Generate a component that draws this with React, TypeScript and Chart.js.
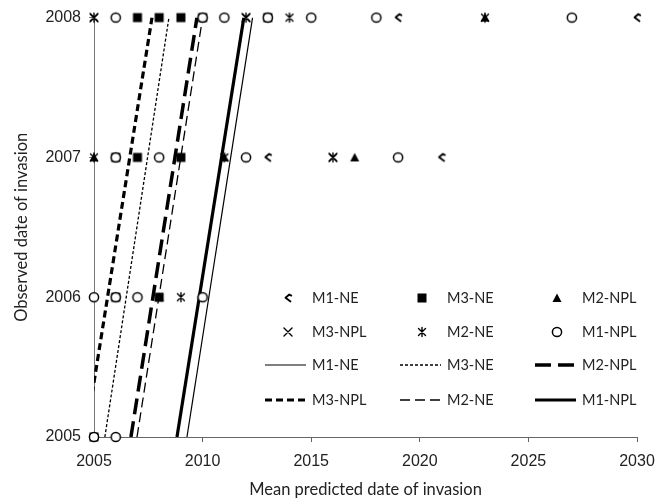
import React, { useEffect, useRef } from 'react';
import { Chart, registerables } from 'chart.js';

Chart.register(...registerables);

// ---------- data ----------
const seriesNames = ['M1-NE', 'M3-NE', 'M2-NPL', 'M3-NPL', 'M2-NE', 'M1-NPL'];

const xTickValues = [2005, 2010, 2015, 2020, 2025, 2030];
const xTickLabels = ['2005', '2010', '2015', '2020', '2025', '2030'];
const yTickValues = [2005, 2006, 2007, 2008];
const yTickLabels = ['2005', '2006', '2007', '2008'];

// marker points: predicted (x) vs observed (y)
const m1neX = [2019, 2030, 2013, 2021];
const m1neY = [2008, 2008, 2007, 2007];

const m3neX = [2007, 2008, 2009, 2010, 2013, 2006, 2007, 2009, 2006, 2008, 2005];
const m3neY = [2008, 2008, 2008, 2008, 2008, 2007, 2007, 2007, 2006, 2006, 2005];

const m2nplX = [2023, 2005, 2011, 2017, 2008];
const m2nplY = [2008, 2007, 2007, 2007, 2006];

const m3nplX = [2005, 2012, 2016];
const m3nplY = [2008, 2008, 2007];

const m2neX = [2005, 2012, 2014, 2023, 2005, 2011, 2016, 2009];
const m2neY = [2008, 2008, 2008, 2008, 2007, 2007, 2007, 2006];

const m1nplX = [2006, 2010, 2011, 2013, 2015, 2018, 2027, 2006, 2008, 2012, 2019, 2005, 2006, 2007, 2010, 2005, 2006];
const m1nplY = [2008, 2008, 2008, 2008, 2008, 2008, 2008, 2007, 2007, 2007, 2007, 2006, 2006, 2006, 2006, 2005, 2005];

// fitted lines: predicted value at observed 2005 and at observed 2008
const lineObsStart = 2005;
const lineObsEnd = 2008;
const lineM1NE = [2009.28, 2012.3];
const lineM3NE = [2005.5, 2008.45];
const lineM2NPL = [2006.7, 2009.74];
const lineM3NPL = [2004.6, 2007.67];
const lineM2NE = [2006.98, 2010.0];
const lineM1NPL = [2008.82, 2011.9];

// ---------- styles ----------
const lineStyles: Record<string, { width: number; dash: number[] }> = {
  'M1-NE': { width: 1.2, dash: [] },
  'M3-NE': { width: 1.3, dash: [3, 2] },
  'M2-NPL': { width: 3.5, dash: [16, 7] },
  'M3-NPL': { width: 3.2, dash: [7, 4] },
  'M2-NE': { width: 1.3, dash: [10, 5] },
  'M1-NPL': { width: 3.2, dash: [] },
};

function makeMarker(name: string): HTMLCanvasElement {
  const c = document.createElement('canvas');
  c.width = 14;
  c.height = 14;
  const g = c.getContext('2d')!;
  g.strokeStyle = '#000';
  g.fillStyle = '#000';
  g.lineCap = 'round';
  g.lineJoin = 'round';
  switch (name) {
    case 'M1-NE':
      g.lineWidth = 1.8;
      g.beginPath();
      g.moveTo(9.5, 10.5);
      g.lineTo(4.5, 6.8);
      g.lineTo(8.3, 3.5);
      g.lineTo(10.3, 4.6);
      g.stroke();
      break;
    case 'M3-NE':
      g.fillRect(2.5, 2.5, 9, 9);
      break;
    case 'M2-NPL':
      g.beginPath();
      g.moveTo(7, 2.5);
      g.lineTo(11.5, 11);
      g.lineTo(2.5, 11);
      g.closePath();
      g.fill();
      break;
    case 'M3-NPL':
      g.lineWidth = 1.4;
      g.beginPath();
      g.moveTo(3, 3);
      g.lineTo(11, 11);
      g.moveTo(11, 3);
      g.lineTo(3, 11);
      g.stroke();
      break;
    case 'M2-NE':
      g.lineWidth = 1.4;
      g.beginPath();
      g.moveTo(3.5, 3.5);
      g.lineTo(10.5, 10.5);
      g.moveTo(10.5, 3.5);
      g.lineTo(3.5, 10.5);
      g.moveTo(7, 2.5);
      g.lineTo(7, 11.5);
      g.stroke();
      break;
    case 'M1-NPL':
      g.lineWidth = 1.5;
      g.fillStyle = '#fff';
      g.beginPath();
      g.arc(7, 7, 4.6, 0, Math.PI * 2);
      g.fill();
      g.stroke();
      break;
  }
  return c;
}

const pts = (xs: number[], ys: number[]) => xs.map((x, i) => ({ x, y: ys[i] }));
const seg = (v: number[]) => [
  { x: v[0], y: lineObsStart },
  { x: v[1], y: lineObsEnd },
];

const UI_FONT = "Lato, 'Open Sans', sans-serif";
const TICK_FONT = "'Liberation Sans', Arial, sans-serif";

export default function App() {
  const ref = useRef<HTMLCanvasElement | null>(null);

  useEffect(() => {
    if (!ref.current) return;
    const markers: Record<string, HTMLCanvasElement> = {};
    seriesNames.forEach((n) => (markers[n] = makeMarker(n)));

    const markerSets: [string, number[], number[]][] = [
      ['M1-NPL', m1nplX, m1nplY],
      ['M2-NE', m2neX, m2neY],
      ['M3-NPL', m3nplX, m3nplY],
      ['M2-NPL', m2nplX, m2nplY],
      ['M1-NE', m1neX, m1neY],
      ['M3-NE', m3neX, m3neY],
    ];
    const lineSets: [string, number[]][] = [
      ['M1-NE', lineM1NE],
      ['M3-NE', lineM3NE],
      ['M2-NPL', lineM2NPL],
      ['M3-NPL', lineM3NPL],
      ['M2-NE', lineM2NE],
      ['M1-NPL', lineM1NPL],
    ];

    const datasets: any[] = [
      ...markerSets.map(([name, xs, ys]) => ({
        label: name + ' obs',
        data: pts(xs, ys),
        showLine: false,
        pointStyle: markers[name],
        pointRadius: 7,
        clip: false,
      })),
      ...lineSets.map(([name, v]) => ({
        label: name + ' fit',
        data: seg(v),
        showLine: true,
        borderColor: '#000',
        borderWidth: lineStyles[name].width,
        borderDash: lineStyles[name].dash,
        pointRadius: 0,
        fill: false,
        clip: 0,
      })),
    ];

    const legendPlugin = {
      id: 'customLegend',
      afterDraw(chart: any) {
        const ctx: CanvasRenderingContext2D = chart.ctx;
        const colMarkerX = [288, 422, 557];
        const colLineX = [265, 400, 535];
        const colLabelX = [312, 447, 582];
        const rowY = [298, 332, 365, 400];
        ctx.save();
        ctx.font = `14.5px ${UI_FONT}`;
        ctx.fillStyle = '#222';
        ctx.textBaseline = 'middle';
        ctx.textAlign = 'left';
        seriesNames.forEach((name, i) => {
          const col = i % 3;
          const r = Math.floor(i / 3);
          const my = rowY[r];
          ctx.drawImage(markers[name], colMarkerX[col] - 7, my - 7);
          ctx.fillText(name, colLabelX[col], my);
          const ly = rowY[r + 2];
          const st = lineStyles[name];
          ctx.beginPath();
          ctx.strokeStyle = '#000';
          ctx.lineWidth = st.width;
          ctx.setLineDash(st.dash);
          ctx.moveTo(colLineX[col], ly);
          ctx.lineTo(colLineX[col] + 41, ly);
          ctx.stroke();
          ctx.setLineDash([]);
          ctx.fillText(name, colLabelX[col], ly);
        });
        ctx.restore();
      },
    };

    const chart = new Chart(ref.current, {
      type: 'scatter',
      data: { datasets },
      plugins: [legendPlugin],
      options: {
        animation: false,
        responsive: false,
        layout: { padding: { top: 15, right: 30, left: 0, bottom: 0 } },
        plugins: { legend: { display: false }, tooltip: { enabled: false } },
        scales: {
          x: {
            type: 'linear',
            min: 2005,
            max: 2030,
            afterFit: (s: any) => {
              s.height = 65;
            },
            afterBuildTicks: (s: any) => {
              s.ticks = xTickValues.map((v) => ({ value: v }));
            },
            ticks: {
              padding: 10,
              color: '#222',
              font: { family: TICK_FONT, size: 16 },
              callback: (_v: any, i: number) => xTickLabels[i],
            },
            grid: { drawOnChartArea: false, drawTicks: true, tickLength: 5, color: '#666' },
            border: { display: true, color: '#666', width: 1 },
            title: {
              display: true,
              text: 'Mean predicted date of invasion',
              color: '#222',
              font: { family: UI_FONT, size: 16.5 },
              padding: { top: 0, bottom: 2 },
            },
          },
          y: {
            type: 'linear',
            min: 2005,
            max: 2008,
            afterFit: (s: any) => {
              s.width = 94;
            },
            afterBuildTicks: (s: any) => {
              s.ticks = yTickValues.map((v) => ({ value: v }));
            },
            ticks: {
              padding: 8,
              color: '#222',
              font: { family: TICK_FONT, size: 16 },
              callback: (_v: any, i: number) => yTickLabels[i],
            },
            grid: { drawOnChartArea: false, drawTicks: true, tickLength: 5, color: '#777' },
            border: { display: true, color: '#777', width: 1 },
            title: {
              display: true,
              text: 'Observed date of invasion',
              color: '#222',
              font: { family: UI_FONT, size: 16.5 },
              padding: { top: 12, bottom: 0 },
            },
          },
        },
      },
    });
    return () => chart.destroy();
  }, []);

  return (
    <div style={{ position: 'fixed', left: 0, top: 0, width: 667, height: 502, background: '#fff' }}>
      <canvas ref={ref} width={667} height={502} />
    </div>
  );
}
